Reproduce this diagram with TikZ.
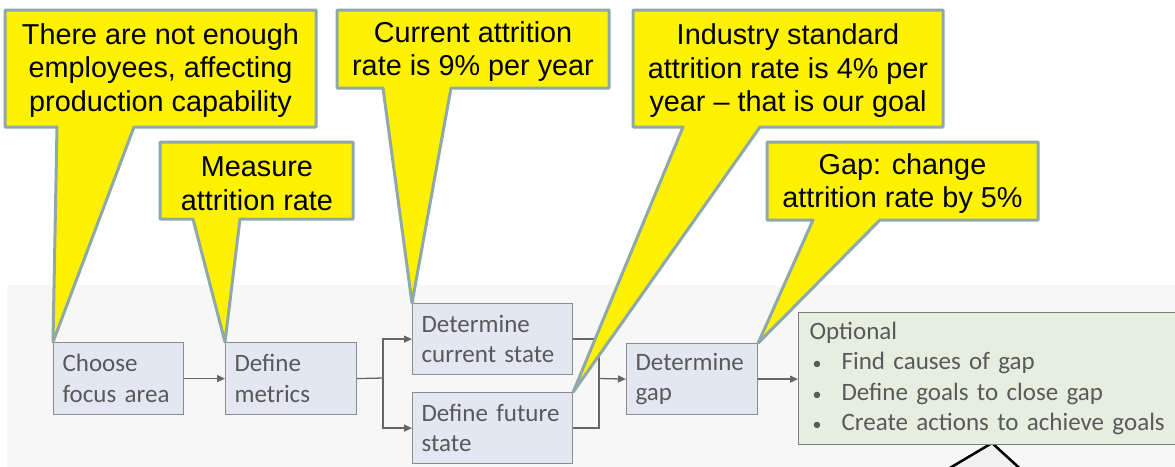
\documentclass[tikz,border=0pt]{standalone}
\usepackage{fontspec}
\setmainfont[WordSpace=0.85]{Carlito}
\newfontfamily\arialf{Liberation Sans}
\usetikzlibrary{arrows.meta}
\definecolor{boxfill}{HTML}{E3E7F1}
\definecolor{boxline}{HTML}{8C8C8C}
\definecolor{txtgray}{HTML}{595959}
\definecolor{optfill}{HTML}{E6EEE0}
\definecolor{callline}{HTML}{8FA8AA}
\definecolor{panel}{HTML}{F7F7F7}
\definecolor{conn}{HTML}{666666}
\definecolor{trifill}{HTML}{F1F1F1}
\begin{document}
\begin{tikzpicture}[x=1pt,y=-1pt,
  stepbox/.style={draw=boxline, fill=boxfill, line width=1.2pt, inner xsep=9pt, inner ysep=0pt,
    align=left, font=\fontsize{25}{30.5}\selectfont, text=txtgray, anchor=north west},
  optbox/.style={stepbox, fill=optfill, draw=boxline!90!black, inner xsep=11pt},
  link/.style={draw=conn, line width=1.3pt},
  arrowlink/.style={link, -{Triangle[length=8pt,width=7pt]}},
  callout/.style={fill=yellow, draw=callline, line width=3pt, line join=round},
  calltext/.style={align=center, font=\arialf\fontsize{28.8}{33.5}\selectfont, text=black, inner sep=0pt}]
\useasboundingbox (0,0) rectangle (1175,466);
\clip (0,0) rectangle (1175,466);
% panel
\fill[panel] (7,285) rectangle (1190,480);
% boxes
\node[stepbox, text width=112pt, minimum height=72pt] (choose) at (53,342) {Choose\\focus area};
\node[stepbox, text width=113pt, minimum height=72pt] (metrics) at (225,342) {Define\\metrics};
\node[stepbox, text width=142pt, minimum height=71pt] (current) at (412,303) {Determine\\current state};
\node[stepbox, text width=142pt, minimum height=71pt] (future) at (412,392) {Define future\\state};
\node[stepbox, text width=113pt, minimum height=71pt] (gap) at (626,343) {Determine\\gap};
% bottom partial shape
\draw[black, line width=2.5pt, fill=trifill] (938,475) -- (992,443) -- (1027,475);
\node[optbox, text width=368pt, minimum height=132pt] (opt) at (798,312)
  {Optional\\
   \hspace*{3pt}\makebox[29pt][l]{\fontsize{18}{18}\selectfont•}Find causes of gap\\
   \hspace*{3pt}\makebox[29pt][l]{\fontsize{18}{18}\selectfont•}Define goals to close gap\\
   \hspace*{3pt}\makebox[29pt][l]{\fontsize{18}{18}\selectfont•}Create actions to achieve goals};
% connectors
\coordinate (f1) at (383,378);
\coordinate (m1) at (599,378.5);
\draw[arrowlink] (choose.east) -- (metrics.west);
\draw[link] (metrics.east) -- (f1);
\draw[arrowlink] (f1) |- (current.west);
\draw[arrowlink] (f1) |- (future.west);
\draw[link] (current.east) -| (m1);
\draw[link] (future.east) -| (m1);
\draw[arrowlink] (m1) -- (gap.west);
\draw[arrowlink] (gap.east) -- (gap.east -| opt.west);
% callouts
\draw[callout] (5,10) -- (316,10) -- (316,127) -- (134,127) -- (choose.north west) -- (57,127) -- (5,127) -- cycle;
\node[calltext] (c1) at (160.5,70.5) {There are not enough\\employees, affecting\\production capability};
\draw[callout] (160,142) -- (353,142) -- (353,219) -- (240,219) -- (metrics.north west) -- (193,219) -- (160,219) -- cycle;
\node[calltext] (c2) at (257,183.5) {Measure\\attrition rate};
\draw[callout] (337,10) -- (609,10) -- (609,88) -- (451,88) -- (current.north west) -- (383,88) -- (337,88) -- cycle;
\node[calltext] (c3) at (473,51.5) {Current attrition\\rate is 9\% per year};
\draw[callout] (633,10) -- (943,10) -- (943,127) -- (760,127) -- (future.north east) -- (683,127) -- (633,127) -- cycle;
\node[calltext] (c4) at (788,71) {Industry standard\\attrition rate is 4\% per\\year – that is our goal};
\draw[callout] (767,142) -- (1038,142) -- (1038,220) -- (880,220) -- (gap.north east) -- (813,220) -- (767,220) -- cycle;
\node[calltext] (c5) at (902.5,183.5) {Gap: change\\attrition rate by 5\%};
\end{tikzpicture}
\end{document}
